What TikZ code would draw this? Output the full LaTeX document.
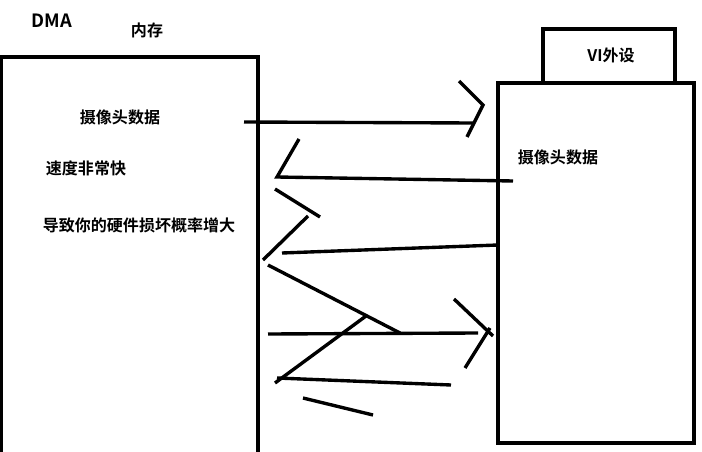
\documentclass[tikz,border=0pt]{standalone}
\usepackage{fontspec}
\usepackage{tikz}
\newfontfamily\cjk{Noto Sans CJK SC}[BoldFont={Noto Sans CJK SC Bold}]
\definecolor{skInk}{HTML}{000000}
\definecolor{skPaper}{HTML}{FFFFFF}
\tikzset{
  skbox/.style={draw=skInk, line width=2.2pt},
  skstroke/.style={draw=skInk, line width=2.4pt},
  sklabel/.style={font=\cjk\bfseries\fontsize{11.4}{13}\selectfont, text=skInk, inner sep=0pt}
}

\begin{document}
\begin{tikzpicture}[x=0.025cm, y=-0.025cm]
  \useasboundingbox[fill=skPaper] (0,0) rectangle (702,452);

  % memory box (runs off the page)
  \draw[skbox] (1.5,452) -- (1.5,57) -- (258,57) -- (258,452);
  % VI peripheral box
  \draw[skbox] (543,83) -- (543,29) -- (675,29) -- (675,83);
  \draw[skbox] (498,443) rectangle (694,83);

  \node[sklabel, font=\cjk\bfseries\fontsize{13}{15}\selectfont] (dma) at (52,21) {DMA};
  \node[sklabel] (mem) at (147,30) {内存};
  \node[sklabel] (camL) at (120,117) {摄像头数据};
  \node[sklabel] (fast) at (86,168) {速度非常快};
  \node[sklabel] (harm) at (139,225) {导致你的硬件损坏概率增大};
  \node[sklabel] (vi) at (611,55) {VI外设};
  \node[sklabel] (camR) at (558,157) {摄像头数据};

  % scribbled transfers
  \draw[skstroke] (244,122) -- (473,123);
  \draw[skstroke] (459,81) -- (483,105) -- (467,137);
  \draw[skstroke] (299,139) -- (277,177) -- (513,181);
  \draw[skstroke] (275,189) -- (320,217);
  \draw[skstroke] (308,216) -- (263,260);
  \draw[skstroke] (282,253) -- (498,245);
  \draw[skstroke] (268,265) -- (400,333);
  \draw[skstroke] (268,334) -- (478,333);
  \draw[skstroke] (454,299) -- (493,336);
  \draw[skstroke] (490,328) -- (465,368);
  \draw[skstroke] (366,316) -- (275,383);
  \draw[skstroke] (277,378) -- (451,385);
  \draw[skstroke] (303,398) -- (373,415);
\end{tikzpicture}
\end{document}
